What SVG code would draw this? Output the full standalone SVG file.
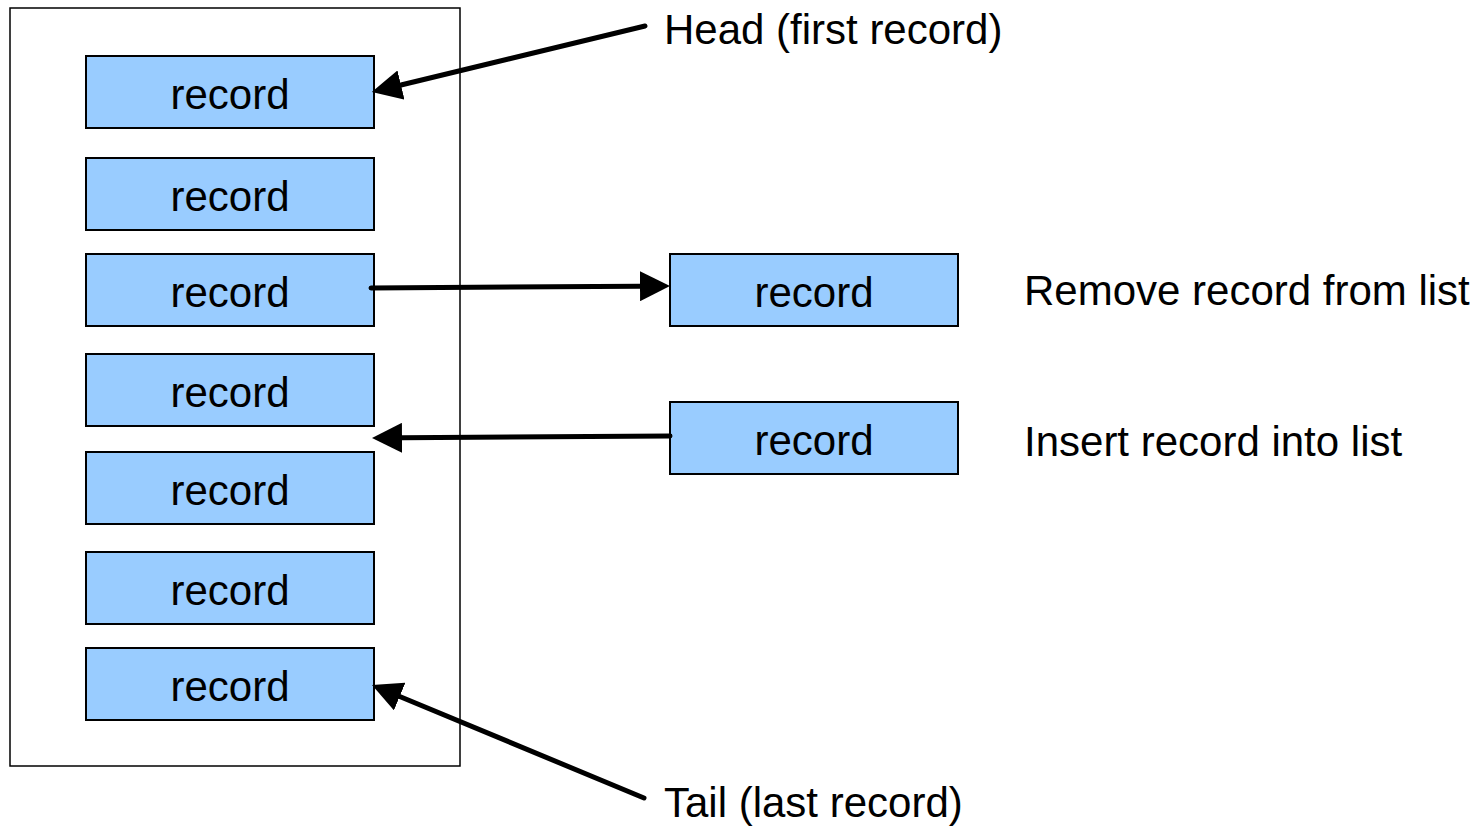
<svg xmlns="http://www.w3.org/2000/svg" width="1483" height="826" viewBox="0 0 1483 826">
  <style>
    .rec { fill: #99ccff; stroke: #000; stroke-width: 2; }
    .frame { fill: none; stroke: #000; stroke-width: 1.5; }
    .lbl { font-family: "Liberation Sans", Arial, sans-serif; font-size: 42px; fill: #000; }
    .mid { text-anchor: middle; }
    .conn { stroke: #000; stroke-width: 5; fill: none; stroke-linecap: round; }
  </style>
  <defs>
    <marker id="arrow" viewBox="0 0 30 30" refX="0" refY="15" markerWidth="30" markerHeight="30" markerUnits="userSpaceOnUse" orient="auto">
      <path d="M0,0 L30,15 L0,30 z" fill="#000"/>
    </marker>
  </defs>

  <rect class="frame" x="10" y="8" width="450" height="758"/>

  <g id="rec1"><rect class="rec" x="86" y="56" width="288" height="72"/><text class="lbl mid" x="230" y="109">record</text></g>
  <g id="rec2"><rect class="rec" x="86" y="158" width="288" height="72"/><text class="lbl mid" x="230" y="211">record</text></g>
  <g id="rec3"><rect class="rec" x="86" y="254" width="288" height="72"/><text class="lbl mid" x="230" y="307">record</text></g>
  <g id="rec4"><rect class="rec" x="86" y="354" width="288" height="72"/><text class="lbl mid" x="230" y="407">record</text></g>
  <g id="rec5"><rect class="rec" x="86" y="452" width="288" height="72"/><text class="lbl mid" x="230" y="505">record</text></g>
  <g id="rec6"><rect class="rec" x="86" y="552" width="288" height="72"/><text class="lbl mid" x="230" y="605">record</text></g>
  <g id="rec7"><rect class="rec" x="86" y="648" width="288" height="72"/><text class="lbl mid" x="230" y="701">record</text></g>

  <g id="removed"><rect class="rec" x="670" y="254" width="288" height="72"/><text class="lbl mid" x="814" y="307">record</text></g>
  <g id="inserted"><rect class="rec" x="670" y="402" width="288" height="72"/><text class="lbl mid" x="814" y="455">record</text></g>

  <g id="labels">
    <text class="lbl" x="664" y="44">Head (first record)</text>
    <text class="lbl" x="1024" y="305">Remove record from list</text>
    <text class="lbl" x="1024" y="456">Insert record into list</text>
    <text class="lbl" x="664" y="817">Tail (last record)</text>
  </g>

  <g id="connectors">
    <line class="conn" x1="645" y1="26" x2="401" y2="85" marker-end="url(#arrow)"/>
    <line class="conn" x1="371" y1="288" x2="640" y2="286.2" marker-end="url(#arrow)"/>
    <line class="conn" x1="670" y1="436" x2="402" y2="437.8" marker-end="url(#arrow)"/>
    <line class="conn" x1="644" y1="798" x2="399.7" y2="696.5" marker-end="url(#arrow)"/>
  </g>
</svg>
